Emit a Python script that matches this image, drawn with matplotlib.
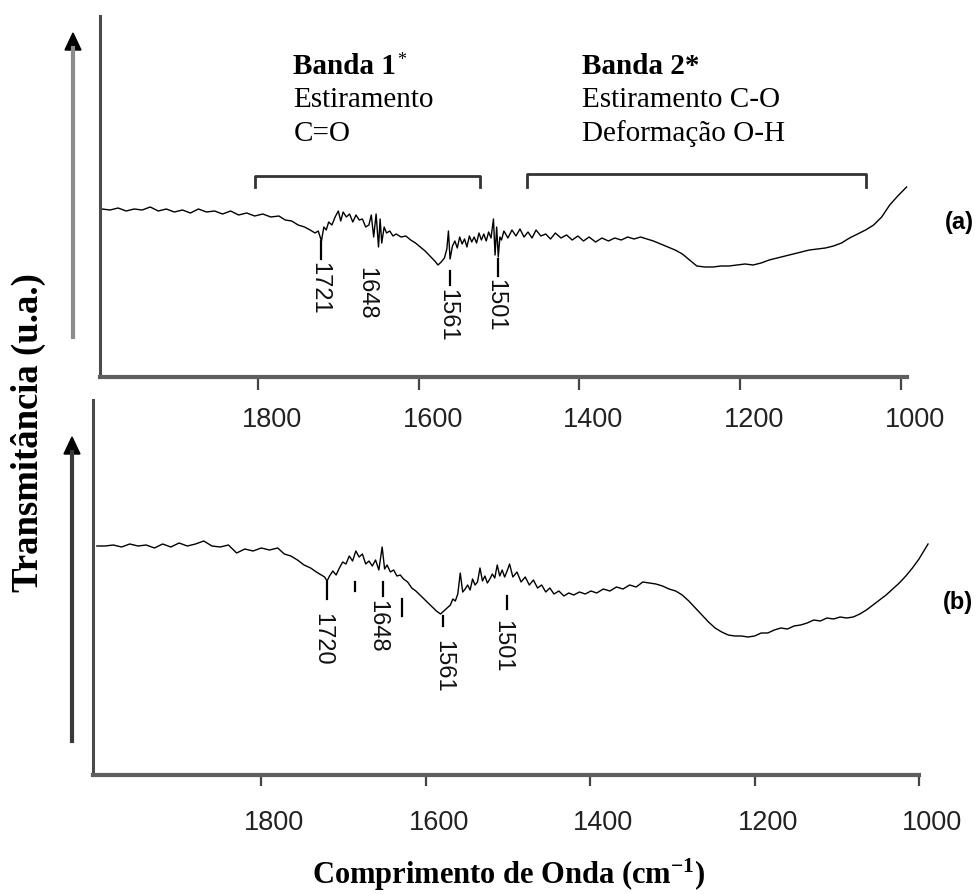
import matplotlib
matplotlib.use('Agg')
import matplotlib.pyplot as plt
from matplotlib.lines import Line2D
from matplotlib.patches import Polygon

# ---------------- data ----------------
# spectrum (a): wavenumber (cm-1) and transmittance (arbitrary units)
wn_a = [1994, 1984, 1974, 1964, 1954, 1944, 1934, 1924, 1914, 1904, 1894, 1884, 1874, 1864, 1854, 1844, 1834, 1824, 1814, 1804, 1794, 1784, 1774,
        1766, 1758, 1750, 1742, 1735, 1729, 1725,
        1721, 1718, 1715, 1712, 1708, 1704, 1700, 1697, 1694, 1690, 1686, 1682, 1678, 1674, 1670, 1666, 1662, 1659, 1656, 1653, 1650, 1648, 1646, 1643, 1640, 1636, 1632,
        1628, 1622, 1616, 1610, 1604, 1598, 1592, 1586, 1580, 1576,
        1572, 1568, 1565, 1563, 1561, 1558, 1555, 1552, 1549, 1546, 1543, 1540, 1537, 1534, 1531, 1528, 1525, 1522, 1519, 1516, 1513, 1510, 1507, 1505, 1503, 1501, 1499, 1497,
        1494, 1489, 1484, 1479, 1474, 1469, 1464, 1459, 1454, 1448, 1442, 1436, 1430, 1423, 1416, 1409, 1402, 1395, 1388, 1380, 1372, 1364, 1356, 1348, 1340, 1332, 1324, 1316,
        1308, 1299, 1290, 1281, 1272, 1263, 1254, 1244, 1234, 1224, 1214, 1204, 1194, 1184, 1174, 1164, 1154, 1144, 1134, 1124, 1114, 1104, 1094, 1084, 1074, 1064, 1054, 1044, 1034, 1024, 1014, 1004, 993]
t_a = [168, 167, 169, 166, 168, 167, 170, 166, 168, 165, 167, 164, 168, 165, 166, 163, 166, 162, 164, 161, 163, 160, 161,
       157, 156, 152, 150, 147, 144, 146,
       136, 150, 147, 155, 152, 160, 166, 156, 165, 160, 163, 155, 162, 157, 158, 150, 152, 162, 140, 163, 130, 158, 134, 150, 144, 146, 141,
       143, 140, 141, 137, 134, 130, 126, 121, 116, 112,
       115, 119, 128, 146, 118, 131, 136, 129, 140, 133, 138, 130, 141, 135, 140, 134, 144, 137, 143, 136, 145, 139, 158, 122, 150, 120, 140, 137,
       146, 139, 147, 141, 148, 140, 145, 139, 147, 141, 143, 138, 144, 139, 142, 137, 141, 136, 140, 135, 139, 136, 139, 137, 140, 138, 140, 138,
       136, 133, 130, 127, 123, 117, 111, 110, 110, 111, 111, 112, 113, 112, 114, 117, 119, 121, 123, 125, 127, 128, 129, 131, 134, 139, 143, 147, 152, 160, 172, 181, 190]

# spectrum (b)
wn_b = [2000, 1990, 1980, 1970, 1960, 1950, 1940, 1930, 1920, 1910, 1900, 1890, 1880, 1870, 1860, 1850, 1840, 1830, 1820, 1810, 1800, 1790, 1780,
        1772, 1764, 1756, 1748, 1740, 1733, 1727,
        1723, 1720, 1717, 1713, 1709, 1705, 1701, 1697, 1693, 1689, 1685, 1681, 1677, 1673, 1669, 1665, 1661, 1657, 1653, 1650, 1647, 1643, 1639, 1635, 1631,
        1627, 1622, 1617, 1612, 1607, 1602, 1597, 1592, 1587, 1582,
        1578, 1574, 1570, 1567, 1564, 1561, 1558, 1555, 1552, 1549, 1546, 1543, 1540, 1537, 1534, 1531, 1528, 1525, 1522, 1519, 1516, 1513, 1510, 1507, 1504, 1501, 1498,
        1494, 1489, 1484, 1479, 1474, 1469, 1464, 1459, 1454, 1449, 1444, 1438, 1432, 1426, 1420, 1413, 1406, 1399, 1392, 1384, 1376, 1368, 1360, 1352, 1344, 1336, 1328, 1320, 1312, 1304, 1296,
        1288, 1280, 1272, 1264, 1256, 1248, 1240, 1232, 1224, 1216, 1208, 1200, 1192, 1184, 1176, 1168, 1160, 1152, 1144, 1136, 1128, 1120, 1112, 1104, 1096, 1088, 1080, 1072, 1064, 1056, 1048, 1040, 1032, 1024, 1016, 1008, 1000, 989]
t_b = [229, 229, 230, 228, 231, 229, 230, 227, 231, 228, 232, 229, 231, 234, 229, 228, 230, 222, 226, 224, 227, 225, 227,
       221, 219, 215, 210, 207, 203, 200,
       198, 194, 199, 204, 200, 207, 213, 211, 219, 214, 224, 218, 221, 211, 214, 209, 215, 205, 228, 206, 210, 203, 205, 199, 200,
       196, 193, 187, 184, 180, 176, 172, 168, 164, 161,
       164, 167, 170, 176, 174, 181, 202, 183, 186, 190, 185, 196, 190, 193, 207, 194, 199, 192, 196, 201, 197, 210, 199, 205, 198, 204, 211,
       198, 203, 193, 198, 190, 195, 187, 190, 183, 187, 181, 184, 179, 182, 180, 183, 181, 184, 182, 186, 184, 188, 186, 190, 188, 193, 192, 191, 189, 186, 184,
       180, 174, 167, 160, 153, 147, 143, 140, 139, 139, 138, 139, 142, 142, 145, 147, 146, 149, 150, 152, 155, 154, 157, 156, 158, 157, 158, 161, 165, 170, 175, 180, 186, 192, 199, 207, 216, 231]

# peak markers: position, marker top/bottom (transmittance), label
peak_a_pos = [1721, 1648, 1561, 1501]
peak_a_top = [136, 111, 106, 118]
peak_a_bot = [118, 111, 92, 101]
peak_a_lab = ['1721', '1648', '1561', '1501']

peak_b_pos = [1720, 1686, 1652, 1629, 1579, 1501]
peak_b_top = [193, 193, 193, 176, 159, 179]
peak_b_bot = [176, 184, 179, 159, 149, 166]
peak_b_lab = ['1720', '', '1648', '', '1561', '1501']

xticks = [1800, 1600, 1400, 1200, 1000]

band1_range = (1804, 1524)
band2_range = (1465, 1044)
band1_lines = ['Banda 1', 'Estiramento', 'C=O']
band2_lines = ['Banda 2*', 'Estiramento C-O', 'Deformação O-H']

# ---------------- figure ----------------
W, H = 979, 895
fig = plt.figure(figsize=(W / 100, H / 100), dpi=100)
SERIF = ['Liberation Serif', 'DejaVu Serif']
SANS = ['Liberation Sans', 'DejaVu Sans']
plt.rcParams['mathtext.fontset'] = 'custom'
plt.rcParams['mathtext.rm'] = 'Liberation Serif:bold'
plt.rcParams['mathtext.bf'] = 'Liberation Serif:bold'
plt.rcParams['mathtext.it'] = 'Liberation Serif:bold'


def fx(x):
    return x / W


def fy(y):
    return 1 - y / H


axA = fig.add_axes([fx(100), fy(378), 807 / W, 361 / H])
axB = fig.add_axes([fx(93), fy(776), 826 / W, 375 / H])

PX = 0.72  # points per pixel


def style(ax, xlim, ylim, ticklen, lab_dx, lab_dy):
    ax.patch.set_visible(False)
    ax.set_xlim(*xlim)
    ax.set_ylim(*ylim)
    for s in ['top', 'right']:
        ax.spines[s].set_visible(False)
    ax.spines['left'].set_linewidth(2.2)
    ax.spines['left'].set_color('#4a4a4a')
    ax.spines['bottom'].set_linewidth(3.0)
    ax.spines['bottom'].set_color('#5e5e5e')
    ax.set_yticks([])
    ax.set_xticks(xticks)
    ax.tick_params(axis='x', direction='out', length=ticklen * PX, width=1.6,
                   color='#444444', labelbottom=False)
    for v in xticks:
        ax.annotate(str(v), xy=(v, 0), xycoords=('data', 'axes fraction'),
                    xytext=(lab_dx * PX, -lab_dy * PX), textcoords='offset points',
                    ha='center', va='center', fontsize=19.5, family=SANS, color='#222222')


style(axA, (1996.5, 992.5), (0, 361), 13, 14, 42)
style(axB, (2004.7, 1000), (0, 375), 11, 13, 47)

axA.plot(wn_a, t_a, color='black', lw=1.0, clip_on=False)
axB.plot(wn_b, t_b, color='black', lw=1.0, clip_on=False)


def peaks(ax, pos, top, bot, lab, dxs, gaps):
    for p, t, b, l, dx, g in zip(pos, top, bot, lab, dxs, gaps):
        if t != b:
            ax.plot([p, p], [t, b], color='black', lw=1.6)
        if l:
            ax.annotate(l, xy=(p, b), xytext=(dx * PX, -g * PX), textcoords='offset points',
                        rotation=270, ha='center', va='top', fontsize=17, family=SANS,
                        color='#111111')


peaks(axA, peak_a_pos, peak_a_top, peak_a_bot, peak_a_lab, [-2, -14, -3, -3], [2, 0, 3, 2])
peaks(axB, peak_b_pos, peak_b_top, peak_b_bot, peak_b_lab, [-5, 0, -6, 0, 0, -5], [13, 0, 3, 0, 13, 10])

# brackets
for (x1, x2), top in [(band1_range, 201), (band2_range, 203)]:
    axA.plot([x1, x1, x2, x2], [190, top, top, 190], color='#333333', lw=2.0, clip_on=False)

# band texts
t1 = axA.text(1756, 304, band1_lines[0], family=SERIF, weight='bold', fontsize=21,
              ha='left', va='baseline')
axA.annotate('*', xy=(1, 1), xycoords=t1, xytext=(1, 1), textcoords='offset points',
             family=SERIF, fontsize=13, ha='left', va='top')
axA.text(1756, 271, band1_lines[1], family=SERIF, fontsize=21, ha='left', va='baseline')
axA.text(1756, 237, band1_lines[2], family=SERIF, fontsize=21, ha='left', va='baseline')
axA.text(1397, 304, band2_lines[0], family=SERIF, weight='bold', fontsize=21, ha='left', va='baseline')
axA.text(1397, 271, band2_lines[1], family=SERIF, fontsize=21, ha='left', va='baseline')
axA.text(1397, 237, band2_lines[2], family=SERIF, fontsize=21, ha='left', va='baseline')

axA.text(927, 156, '(a)', family=SANS, weight='bold', fontsize=17, ha='center', va='center')
axB.text(953, 173, '(b)', family=SANS, weight='bold', fontsize=17, ha='center', va='center')

# axis titles
fig.text(fx(509), fy(875), 'Comprimento de Onda (cm$^{\\mathbf{-1}}$)', family=SERIF,
         weight='bold', fontsize=22, ha='center', va='center')
fig.text(fx(28), fy(433), 'Transmitância (u.a.)', family=SERIF, weight='bold', fontsize=26.5,
         rotation=90, ha='center', va='center')


# arrows
def arrow(x, y_tail, y_tip, shaft_color):
    head_len, head_w = 17, 8
    fig.add_artist(Line2D([fx(x), fx(x)], [fy(y_tail), fy(y_tip + head_len - 2)],
                          color=shaft_color, lw=3.0, transform=fig.transFigure))
    fig.add_artist(Polygon([[fx(x - head_w), fy(y_tip + head_len)], [fx(x + head_w), fy(y_tip + head_len)],
                            [fx(x), fy(y_tip)]], closed=True, color='black',
                           transform=fig.transFigure))


arrow(73, 338, 34, '#8c8c8c')
arrow(72, 742, 438, '#3a3a3a')

fig.savefig('out.png', dpi=100)
